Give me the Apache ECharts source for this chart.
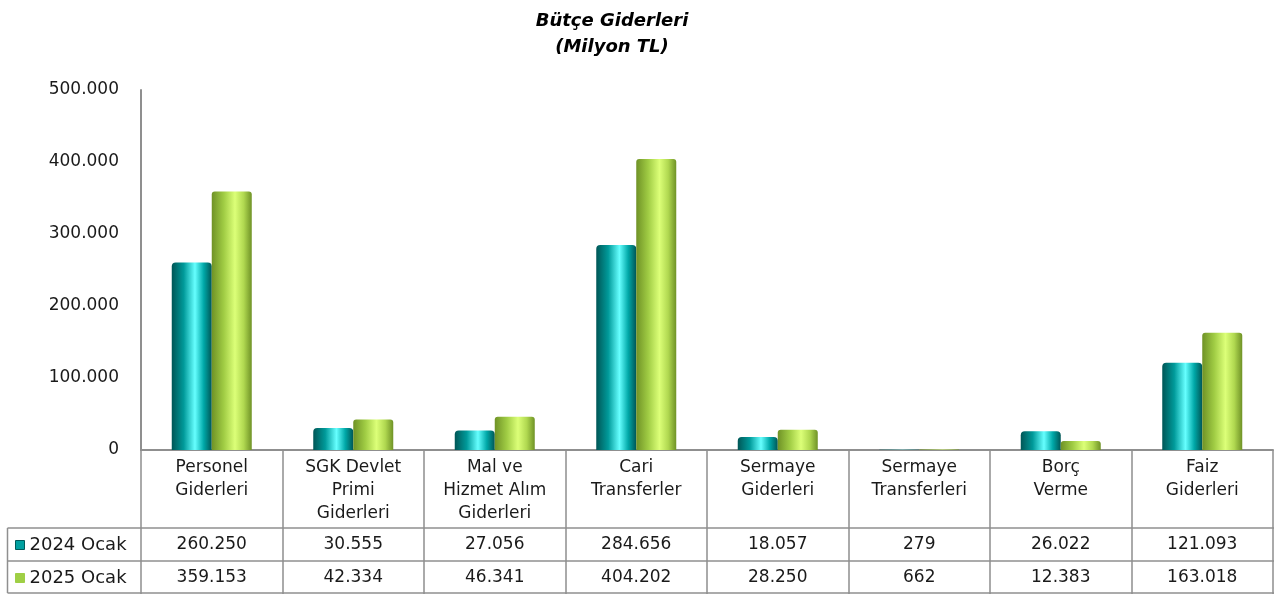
<!DOCTYPE html>
<html>
<head>
<meta charset="utf-8">
<script src="https://cdn.jsdelivr.net/npm/echarts@6/dist/echarts.min.js"></script>
<style>
html, body { margin: 0; padding: 0; background: #fff; }
#chart { width: 1274px; height: 594px; }
</style>
</head>
<body>
<div id="chart"></div>
<script>
// veriler
var categories = ['Personel\nGiderleri', 'SGK Devlet\nPrimi\nGiderleri', 'Mal ve\nHizmet Alım\nGiderleri', 'Cari\nTransferler', 'Sermaye\nGiderleri', 'Sermaye\nTransferleri', 'Borç\nVerme', 'Faiz\nGiderleri'];
var seriesNames = ['2024 Ocak', '2025 Ocak'];
var ocak2024 = [260250, 30555, 27056, 284656, 18057, 279, 26022, 121093];
var ocak2025 = [359153, 42334, 46341, 404202, 28250, 662, 12383, 163018];
var yTicks = [0, 100000, 200000, 300000, 400000, 500000];

var FONT = 'DejaVu Sans';
var GRAY = '#8f8f8f';
// tablo yerleşimi
var gridLeft = 141, gridTop = 90, axisY = 450;
var row1 = 528, row2 = 561, rowEnd = 593, tableLeft = 7.5;

function fmt(v) {
    return String(v).replace(/\B(?=(\d{3})+(?!\d))/g, '.');
}

function cylinder(edge, mid, light, right) {
    return new echarts.graphic.LinearGradient(0, 0, 1, 0, [
        { offset: 0, color: edge },
        { offset: 0.3, color: mid },
        { offset: 0.58, color: light },
        { offset: 0.8, color: right },
        { offset: 1, color: edge }
    ]);
}

var myChart = echarts.init(document.getElementById('chart'));

function hline(y) {
    return { type: 'line', shape: { x1: tableLeft, y1: y, x2: 1274, y2: y }, style: { stroke: GRAY, lineWidth: 1.5 } };
}

var valueAxis = function (data, offset) {
    return {
        type: 'category',
        gridIndex: 0,
        position: 'bottom',
        offset: offset,
        data: data.map(fmt),
        axisLine: { show: false },
        axisTick: { show: false },
        axisLabel: { interval: 0, margin: 7, fontFamily: FONT, fontSize: 17, lineHeight: 20, color: '#1a1a1a' }
    };
};

// her satır için ayrı lejant
var legendRow = function (name, color, border, top) {
    return {
        orient: 'vertical',
        left: 15,
        top: top,
        padding: 0,
        itemWidth: 9,
        itemHeight: 9,
        icon: 'rect',
        textStyle: { fontFamily: FONT, fontSize: 18, color: '#1a1a1a' },
        data: [{ name: name, itemStyle: { color: color, borderColor: border, borderWidth: 1 } }]
    };
};

var option = {
    animation: false,
    title: {
        text: 'Bütçe Giderleri\n(Milyon TL)',
        left: 607,
        top: 3,
        textAlign: 'center',
        textStyle: { fontFamily: FONT, fontSize: 18, fontWeight: 'bold', fontStyle: 'italic', lineHeight: 26, color: '#000' }
    },
    legend: [
        legendRow(seriesNames[0], '#00a0a0', '#005a5a', row1 + 8),
        legendRow(seriesNames[1], '#9fcf45', '#9fcf45', row2 + 8)
    ],
    grid: { left: gridLeft, right: 1, top: gridTop, height: axisY - gridTop },
    xAxis: [
        {
            type: 'category',
            data: categories,
            axisLine: { lineStyle: { color: GRAY, width: 2 } },
            axisTick: { show: true, interval: 0, length: 144, lineStyle: { color: GRAY, width: 1.5 } },
            axisLabel: { interval: 0, margin: 6, fontFamily: FONT, fontSize: 17, lineHeight: 23, color: '#1a1a1a' }
        },
        valueAxis(ocak2024, row1 - axisY),
        valueAxis(ocak2025, row2 - axisY)
    ],
    yAxis: {
        type: 'value',
        min: yTicks[0],
        max: yTicks[yTicks.length - 1],
        interval: yTicks[1] - yTicks[0],
        axisLine: { show: true, lineStyle: { color: GRAY, width: 2 } },
        axisTick: { show: false },
        splitLine: { show: false },
        axisLabel: { margin: 22, fontFamily: FONT, fontSize: 17, color: '#1a1a1a', formatter: fmt }
    },
    series: [
        {
            name: seriesNames[0],
            type: 'bar',
            data: ocak2024,
            barWidth: 40,
            barGap: '0%',
            itemStyle: { color: cylinder('#005656', '#009a9a', '#66ffff', '#00a8a8'), borderRadius: [4, 4, 0, 0] }
        },
        {
            name: seriesNames[1],
            type: 'bar',
            data: ocak2025,
            barWidth: 40,
            itemStyle: { color: cylinder('#6f9226', '#a0cc44', '#dcff78', '#b0d850'), borderRadius: [3, 3, 0, 0] }
        }
    ],
    graphic: [
        hline(row1),
        hline(row2),
        hline(rowEnd),
        { type: 'line', shape: { x1: tableLeft, y1: row1, x2: tableLeft, y2: rowEnd }, style: { stroke: GRAY, lineWidth: 1.5 } }
    ]
};

myChart.setOption(option);
</script>
</body>
</html>
